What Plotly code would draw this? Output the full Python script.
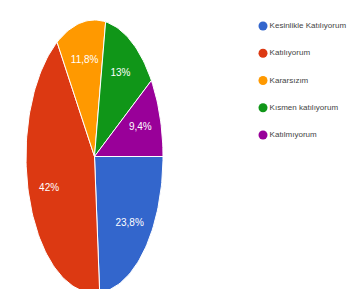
import math
import plotly.graph_objects as go

labels = ["Kesinlikle Katılıyorum", "Katılıyorum", "Kararsızım", "Kısmen katılıyorum", "Katılmıyorum"]
values = [23.8, 42.0, 11.8, 13.0, 9.4]
value_text = ["23,8%", "42%", "11,8%", "13%", "9,4%"]
colors = ["#3366CC", "#DC3912", "#FF9900", "#109618", "#990099"]

W, H = 358, 289
FONT = "Liberation Sans, Arial, sans-serif"

fig = go.Figure()
total = sum(values)
cum = 0.0
lab_x, lab_y = [], []
for lab, v, c in zip(labels, values, colors):
    a0 = -2 * math.pi * cum / total
    a1 = -2 * math.pi * (cum + v) / total
    n = max(8, int(200 * v / total))
    xs, ys = [0.0], [0.0]
    for k in range(n + 1):
        a = a0 + (a1 - a0) * k / n
        xs.append(math.cos(a))
        ys.append(math.sin(a))
    xs.append(0.0)
    ys.append(0.0)
    fig.add_trace(go.Scatter(x=xs, y=ys, mode="lines", fill="toself", fillcolor=c,
                             line=dict(color="white", width=1), showlegend=False,
                             hoverinfo="skip"))
    am = (a0 + a1) / 2
    lab_x.append(0.7 * math.cos(am))
    lab_y.append(0.72 * math.sin(am))
    cum += v

fig.add_trace(go.Scatter(x=lab_x, y=lab_y, mode="text", text=value_text,
                         textfont=dict(color="white", size=10, family=FONT),
                         showlegend=False, hoverinfo="skip"))

# legend drawn on a secondary axis
fig.add_trace(go.Scatter(x=[40.2] * len(labels), y=[-i for i in range(len(labels))],
                         xaxis="x2", yaxis="y2", mode="markers+text",
                         marker=dict(color=colors, size=9, symbol="circle"),
                         text=labels, textposition="middle right",
                         textfont=dict(color="#444444", size=8, family=FONT),
                         showlegend=False, hoverinfo="skip", cliponaxis=False))

fig.update_layout(
    width=W, height=H, margin=dict(l=0, r=0, t=0, b=0),
    paper_bgcolor="white", plot_bgcolor="white",
    xaxis=dict(domain=[18 / W, 155 / W], range=[-1, 1], visible=False, fixedrange=True),
    yaxis=dict(domain=[1 - 285 / H, 1 - 12 / H], range=[-1, 1], visible=False, fixedrange=True),
    xaxis2=dict(domain=[0.6, 1.0], range=[0, 0.4 * W], visible=False, anchor="y2"),
    yaxis2=dict(domain=[1 - 127 / H, 1 - 18 / H], range=[-4, 0], visible=False, anchor="x2"),
    showlegend=False,
)

fig.write_html("out.html")
